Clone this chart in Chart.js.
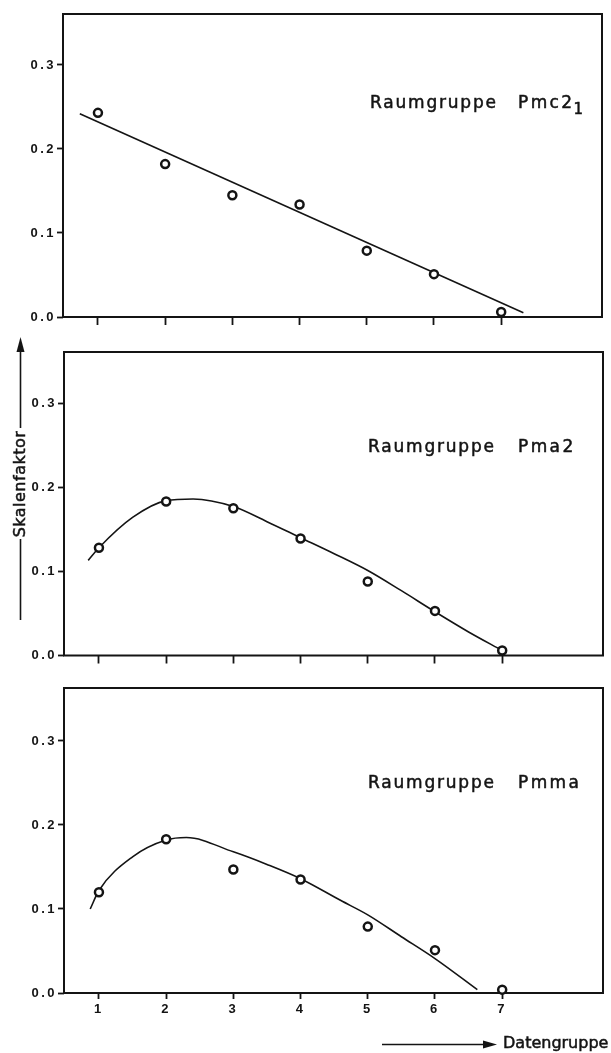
<!DOCTYPE html>
<html>
<head>
<meta charset="utf-8">
<script src="https://cdn.jsdelivr.net/npm/chart.js@4.4.1/dist/chart.umd.min.js"></script>
<style>
html, body { margin: 0; padding: 0; background: #fff; }
#wrap { position: relative; width: 611px; height: 1053px; overflow: hidden; }
#wrap canvas { position: absolute; left: 0; }
</style>
</head>
<body>
<div id="wrap">
	<canvas id="c1" width="611" height="332" style="top:0px"></canvas>
	<canvas id="c2" width="611" height="338" style="top:332px"></canvas>
	<canvas id="c3" width="611" height="383" style="top:670px"></canvas>
</div>
<script>
// Datengruppe 1..7
var groups = [1, 2, 3, 4, 5, 6, 7];
var yTicks = [0, 0.1, 0.2, 0.3];

// Raumgruppe Pmc2_1
var pmc21Values = [0.243, 0.182, 0.145, 0.134, 0.079, 0.051, 0.006];
var pmc21FitX = [0.73, 7.33];
var pmc21FitY = [0.242, 0.005];

// Raumgruppe Pma2
var pma2Values = [0.128, 0.183, 0.175, 0.139, 0.088, 0.053, 0.006];
var pma2FitX = [0.84, 1, 1.5, 2, 2.4, 3, 3.5, 4, 4.5, 5, 5.5, 6, 6.5, 7];
var pma2FitY = [0.113, 0.128, 0.164, 0.184, 0.186, 0.177, 0.159, 0.140, 0.121, 0.101, 0.077, 0.052, 0.028, 0.006];

// Raumgruppe Pmma
var pmmaValues = [0.120, 0.183, 0.147, 0.135, 0.079, 0.051, 0.004];
var pmmaFitX = [0.87, 1, 1.5, 2, 2.3, 3, 3.5, 4, 4.6, 5, 5.5, 6, 6.63];
var pmmaFitY = [0.100, 0.122, 0.162, 0.182, 0.185, 0.168, 0.153, 0.136, 0.110, 0.093, 0.067, 0.041, 0.004];

var INK = '#141414';

function toPoints(xs, ys){
	var pts = [];
	for(var i = 0; i < xs.length; i++){
		pts.push({x: xs[i], y: ys[i]});
	}
	return pts;
}

// draw text a bit heavier, the print is dark
function inkText(ctx, txt, x, y){
	ctx.fillText(txt, x, y);
	ctx.strokeText(txt, x, y);
}

// frame box, panel caption and the free labels
var framePlugin = {
	id: 'frame',
	beforeDraw: function(chart){
		chart.ctx.letterSpacing = '2.5px';
	},
	beforeDatasetsDraw: function(chart){
		var ctx = chart.ctx, a = chart.chartArea;
		ctx.save();
		ctx.strokeStyle = INK;
		ctx.lineWidth = 2;
		ctx.strokeRect(a.left, a.top, a.right - a.left, a.bottom - a.top);
		ctx.restore();
	},
	afterDraw: function(chart, args, opts){
		var ctx = chart.ctx;
		ctx.save();
		ctx.fillStyle = INK;
		ctx.strokeStyle = INK;
		ctx.lineWidth = 0.5;
		if(opts.caption){
			ctx.font = '17px "DejaVu Sans"';
			ctx.letterSpacing = '1.8px';
			ctx.textBaseline = 'alphabetic';
			ctx.textAlign = 'left';
			inkText(ctx, opts.caption, opts.cx, opts.cy);
			ctx.letterSpacing = '2.4px';
			inkText(ctx, opts.group, 518, opts.cy);
			if(opts.sub){
				var w = ctx.measureText(opts.group).width;
				ctx.font = '15px "DejaVu Sans"';
				inkText(ctx, opts.sub, 518 + w - 1, opts.cy + 6);
			}
		}
		if(opts.yTitle){
			// Skalenfaktor with the arrow going up
			ctx.letterSpacing = '0.5px';
			ctx.font = '16px "DejaVu Sans"';
			ctx.save();
			ctx.translate(21, 152);
			ctx.rotate(-Math.PI / 2);
			ctx.textAlign = 'center';
			ctx.textBaseline = 'middle';
			inkText(ctx, opts.yTitle, 0, 0);
			ctx.restore();
			ctx.lineWidth = 1.6;
			ctx.beginPath();
			ctx.moveTo(20.5, 288); ctx.lineTo(20.5, 207);
			ctx.moveTo(20.5, 96); ctx.lineTo(20.5, 18);
			ctx.stroke();
			ctx.beginPath();
			ctx.moveTo(20.5, 5); ctx.lineTo(16.5, 20); ctx.lineTo(24.5, 20);
			ctx.closePath();
			ctx.fill();
		}
		if(opts.xTitle){
			// Datengruppe with the arrow going right
			ctx.letterSpacing = '0px';
			ctx.lineWidth = 0.5;
			ctx.font = '16px "DejaVu Sans"';
			ctx.textAlign = 'left';
			ctx.textBaseline = 'alphabetic';
			inkText(ctx, opts.xTitle, 503, 378);
			ctx.lineWidth = 1.6;
			ctx.beginPath();
			ctx.moveTo(382, 374.5); ctx.lineTo(486, 374.5);
			ctx.stroke();
			ctx.beginPath();
			ctx.moveTo(497, 374.5); ctx.lineTo(483, 370.5); ctx.lineTo(483, 378.5);
			ctx.closePath();
			ctx.fill();
		}
		ctx.restore();
	}
};

function makePanel(id, values, fitX, fitY, cfg){
	var ctx = document.getElementById(id).getContext('2d');
	return new Chart(ctx, {
		type: 'scatter',
		data: {
			datasets: [{
				label: 'Ausgleich',
				data: toPoints(fitX, fitY),
				showLine: true,
				borderColor: INK,
				borderWidth: 1.6,
				pointRadius: 0,
				cubicInterpolationMode: fitX.length > 2 ? 'monotone' : 'default',
				clip: false,
				order: 2
			}, {
				label: 'Skalenfaktor',
				data: toPoints(groups, values),
				showLine: false,
				pointRadius: 4,
				pointBorderWidth: 2.5,
				pointBorderColor: INK,
				pointBackgroundColor: '#fff',
				clip: false,
				order: 1
			}]
		},
		options: {
			responsive: false,
			animation: false,
			devicePixelRatio: 1,
			layout: { padding: { top: cfg.top, right: cfg.right, left: 0, bottom: 0 } },
			plugins: {
				legend: { display: false },
				tooltip: { enabled: false },
				frame: cfg.frame
			},
			scales: {
				x: {
					type: 'linear',
					min: 0.48,
					max: 8.5,
					afterBuildTicks: function(scale){
						scale.ticks = groups.map(function(v){ return {value: v}; });
					},
					afterFit: function(scale){ scale.height = cfg.xHeight; },
					border: { display: false },
					grid: {
						drawOnChartArea: false,
						drawTicks: true,
						tickLength: cfg.xTickLen,
						tickColor: INK,
						tickWidth: 1.8
					},
					ticks: {
						display: cfg.xLabels,
						color: INK,
						padding: 3,
						maxRotation: 0,
						font: { family: 'Liberation Sans', weight: 'bold', size: 13 },
						callback: function(v){ return String(v); }
					}
				},
				y: {
					min: 0,
					max: cfg.yMax,
					afterBuildTicks: function(scale){
						scale.ticks = yTicks.map(function(v){ return {value: v}; });
					},
					afterFit: function(scale){ scale.width = cfg.yWidth; },
					border: { display: false },
					grid: {
						drawOnChartArea: false,
						drawTicks: true,
						tickLength: 6,
						tickColor: INK,
						tickWidth: 1.8
					},
					ticks: {
						color: INK,
						padding: 1,
						font: { family: 'Liberation Sans', weight: 'bold', size: 13 },
						callback: function(v){ return Number(v).toFixed(1); }
					}
				}
			}
		},
		plugins: [framePlugin]
	});
}

makePanel('c1', pmc21Values, pmc21FitX, pmc21FitY, {
	top: 14, right: 9, yWidth: 63, xHeight: 15, yMax: 0.3607, xTickLen: 8, xLabels: false,
	frame: { caption: 'Raumgruppe', group: 'Pmc2', sub: '1', cx: 370, cy: 108 }
});
makePanel('c2', pma2Values, pma2FitX, pma2FitY, {
	top: 20, right: 8, yWidth: 64, xHeight: 14.5, yMax: 0.3606, xTickLen: 8, xLabels: false,
	frame: { caption: 'Raumgruppe', group: 'Pma2', cx: 368, cy: 120, yTitle: 'Skalenfaktor' }
});
makePanel('c3', pmmaValues, pmmaFitX, pmmaFitY, {
	top: 18, right: 8, yWidth: 64, xHeight: 60, yMax: 0.363, xTickLen: 6, xLabels: true,
	frame: { caption: 'Raumgruppe', group: 'Pmma', cx: 368, cy: 118, xTitle: 'Datengruppe' }
});
</script>
</body>
</html>
